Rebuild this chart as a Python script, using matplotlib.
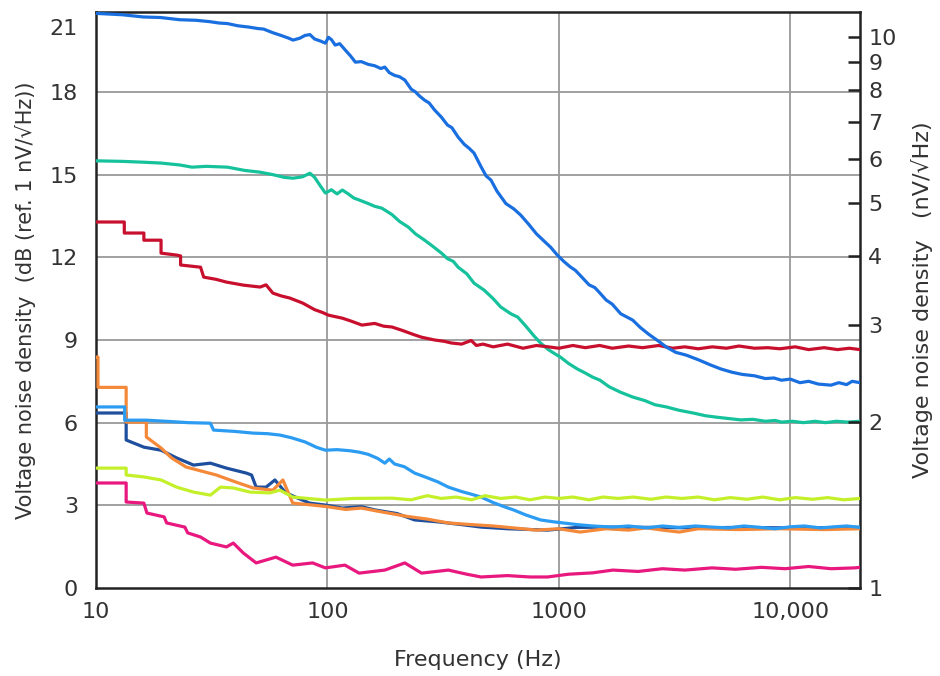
import matplotlib
matplotlib.use("Agg")
import matplotlib.pyplot as plt
import numpy as np

plt.rcParams['font.family'] = ['DejaVu Sans']

# curves: (frequency Hz, level dB re 1 nV/rtHz)
blue_f = [10, 13, 16, 19, 23, 27, 31, 34, 37, 41, 46, 50, 53, 58, 63, 68, 71, 76, 80, 84, 88, 93, 98,
          101, 104, 108, 113, 120, 126, 132, 140, 150, 160, 170, 177, 185, 195, 205, 216, 230, 240, 250,
          263, 275, 290, 311, 330, 345, 367, 390, 410, 430, 460, 485, 509, 540, 590, 640, 684, 740, 800,
          860, 920, 980, 1050, 1120, 1177, 1250, 1350, 1430, 1505, 1600, 1700, 1850, 2000, 2084, 2250,
          2450, 2700, 2915, 3200, 3550, 4036, 4500, 5000, 5588, 6200, 7000, 7800, 8500, 9152, 10000,
          11000, 12000, 13200, 14980, 16200, 17500, 18500, 20000]
blue_db = [20.85, 20.8, 20.72, 20.7, 20.62, 20.6, 20.55, 20.5, 20.48, 20.4, 20.35, 20.3, 20.28, 20.15,
           20.05, 19.95, 19.88, 19.95, 20.05, 20.08, 19.92, 19.85, 19.77, 19.98, 19.9, 19.7, 19.75, 19.5,
           19.3, 19.08, 19.1, 19.0, 18.95, 18.85, 18.9, 18.7, 18.6, 18.55, 18.43, 18.1, 18.0, 17.85, 17.7,
           17.6, 17.35, 17.08, 16.8, 16.7, 16.36, 16.1, 15.95, 15.78, 15.3, 14.95, 14.8, 14.4, 13.95,
           13.75, 13.53, 13.2, 12.85, 12.6, 12.37, 12.1, 11.85, 11.65, 11.53, 11.3, 11.0, 10.9, 10.7,
           10.45, 10.3, 9.95, 9.8, 9.72, 9.45, 9.2, 8.95, 8.74, 8.55, 8.45, 8.27, 8.1, 7.95, 7.83, 7.75,
           7.7, 7.6, 7.62, 7.54, 7.58, 7.45, 7.5, 7.4, 7.36, 7.45, 7.38, 7.5, 7.45]

teal_f = [10, 13, 16, 19, 23, 26, 30, 37, 44, 51, 58, 65, 71, 78, 84, 88, 93, 98, 104, 110, 116, 123,
          130, 137, 150, 160, 172, 190, 205, 224, 240, 263, 285, 311, 330, 350, 367, 400, 430, 475, 520,
          560, 620, 664, 720, 780, 833, 900, 960, 1015, 1100, 1200, 1300, 1400, 1505, 1650, 1850, 2084,
          2350, 2600, 2915, 3300, 3800, 4300, 4773, 5400, 6100, 6900, 7800, 8600, 9152, 10200, 11400,
          12800, 14200, 15800, 17720, 20000]
teal_db = [15.5, 15.48, 15.45, 15.42, 15.35, 15.27, 15.3, 15.27, 15.15, 15.09, 15.0, 14.9, 14.87, 14.92,
           15.05, 14.9, 14.6, 14.33, 14.45, 14.3, 14.44, 14.3, 14.15, 14.08, 13.95, 13.85, 13.78, 13.55,
           13.3, 13.09, 12.85, 12.62, 12.4, 12.15, 11.95, 11.85, 11.64, 11.4, 11.06, 10.81, 10.5, 10.2,
           9.95, 9.83, 9.5, 9.15, 8.89, 8.65, 8.5, 8.38, 8.15, 7.95, 7.8, 7.65, 7.54, 7.3, 7.1, 6.93, 6.8,
           6.65, 6.57, 6.45, 6.35, 6.25, 6.2, 6.15, 6.1, 6.12, 6.05, 6.08, 6.02, 6.05, 6.0, 6.05, 6.0,
           6.05, 6.02, 6.05]

red_f = [10, 13.25, 13.25, 16.1, 16.1, 19.1, 19.1, 22.3, 23.2, 23.2, 28.3, 29.2, 33, 36.6, 43.3, 51.2,
         54.3, 58.1, 63, 68.8, 78.1, 88, 95, 101, 116, 125, 141, 160, 175, 190, 210, 235, 255, 290, 320,
         343, 380, 418, 440, 470, 520, 600, 700, 800, 900, 1000, 1150, 1300, 1500, 1700, 2000, 2300,
         2700, 3100, 3500, 4000, 4600, 5300, 6000, 7000, 8000, 9000, 10500, 12000, 14000, 16000, 18000,
         20000]
red_db = [13.28, 13.28, 12.88, 12.88, 12.62, 12.62, 12.15, 12.08, 12.05, 11.72, 11.64, 11.28, 11.2, 11.1,
          10.99, 10.92, 11.0, 10.7, 10.6, 10.52, 10.34, 10.1, 10.0, 9.9, 9.79, 9.7, 9.54, 9.6, 9.5, 9.47,
          9.35, 9.2, 9.1, 9.0, 8.95, 8.89, 8.85, 8.98, 8.8, 8.85, 8.75, 8.85, 8.7, 8.8, 8.75, 8.7, 8.8,
          8.72, 8.8, 8.7, 8.78, 8.72, 8.8, 8.7, 8.75, 8.68, 8.75, 8.7, 8.78, 8.7, 8.72, 8.68, 8.75, 8.65,
          8.72, 8.65, 8.7, 8.65]

lblue_f = [10, 13.3, 13.3, 16.5, 20, 25, 31.2, 32.2, 40, 47.7, 55, 62.3, 70, 80, 90, 98, 110, 125, 137,
           150, 165, 177, 185, 195, 215, 238, 270, 300, 333, 380, 420, 461, 520, 580, 638, 720, 833, 950,
           1045, 1200, 1400, 1712, 2000, 2400, 2800, 3300, 3900, 4588, 5400, 6300, 7400, 8600, 10000,
           11500, 13500, 15500, 17500, 20000]
lblue_db = [6.57, 6.57, 6.09, 6.09, 6.05, 6.0, 5.98, 5.73, 5.68, 5.62, 5.6, 5.55, 5.45, 5.3, 5.1, 5.0,
            5.02, 4.98, 4.93, 4.85, 4.7, 4.53, 4.68, 4.5, 4.4, 4.17, 4.0, 3.85, 3.66, 3.5, 3.4, 3.3, 3.1,
            2.95, 2.83, 2.65, 2.47, 2.4, 2.36, 2.3, 2.25, 2.21, 2.25, 2.18, 2.25, 2.2, 2.25, 2.21, 2.18,
            2.25, 2.2, 2.15, 2.22, 2.25, 2.18, 2.22, 2.25, 2.2]

navy_f = [10, 13.5, 13.5, 16.1, 19.1, 22.3, 26.4, 31.2, 36.6, 44.6, 47, 49.2, 54.3, 59.3, 66.1, 75,
          83.7, 100, 116, 140, 161, 200, 238, 300, 380, 461, 600, 893, 1200, 1712, 2500, 4000, 6000,
          10000, 20000]
navy_db = [6.35, 6.35, 5.37, 5.11, 5.0, 4.72, 4.46, 4.53, 4.35, 4.17, 4.1, 3.66, 3.66, 3.92, 3.45, 3.25,
           3.08, 3.0, 2.9, 2.95, 2.83, 2.7, 2.47, 2.4, 2.3, 2.21, 2.15, 2.1, 2.2, 2.21, 2.2, 2.18, 2.2,
           2.18, 2.2]

orange_f = [10, 10.2, 10.2, 13.5, 13.5, 16.5, 16.5, 19.1, 21.2, 24.5, 33.1, 40, 47.7, 58.1, 64.2, 70.8,
            86.3, 100, 120, 140, 172, 220, 270, 333, 420, 520, 638, 800, 1000, 1236, 1600, 2000, 2393,
            2800, 3314, 4000, 6000, 9000, 14000, 20000]
orange_db = [8.38, 8.38, 7.28, 7.28, 6.02, 6.02, 5.48, 5.08, 4.72, 4.39, 4.1, 3.85, 3.63, 3.55, 3.92,
             3.08, 3.01, 2.95, 2.85, 2.9, 2.76, 2.6, 2.5, 2.36, 2.3, 2.25, 2.18, 2.1, 2.15, 2.03, 2.15,
             2.1, 2.18, 2.1, 2.03, 2.15, 2.12, 2.15, 2.12, 2.15]

yellow_f = [10, 13.5, 13.5, 16.1, 19.1, 22.3, 26.4, 31.2, 34.5, 39.2, 46.3, 56.4, 62.3, 70.8, 98, 130,
            190, 230, 270, 310, 360, 420, 480, 560, 650, 750, 870, 1000, 1150, 1350, 1550, 1800, 2100,
            2500, 2900, 3400, 4000, 4700, 5500, 6500, 7600, 9000, 10500, 12500, 14500, 17000, 20000]
yellow_db = [4.35, 4.35, 4.1, 4.03, 3.92, 3.66, 3.48, 3.37, 3.66, 3.63, 3.48, 3.45, 3.55, 3.3, 3.19,
             3.25, 3.26, 3.2, 3.35, 3.25, 3.3, 3.2, 3.35, 3.25, 3.3, 3.2, 3.3, 3.25, 3.3, 3.2, 3.3, 3.25,
             3.3, 3.22, 3.3, 3.25, 3.3, 3.2, 3.28, 3.22, 3.3, 3.2, 3.28, 3.22, 3.28, 3.2, 3.25]

magenta_f = [10, 13.5, 13.5, 16.1, 16.6, 19.7, 20.2, 24.2, 24.9, 28.3, 31.2, 36.6, 39.2, 43.3, 49.2,
             59.9, 70.8, 86.3, 98, 119, 137, 177, 216, 255, 333, 400, 461, 600, 750, 893, 1100, 1400,
             1712, 2200, 2800, 3500, 4588, 5800, 7500, 9500, 12000, 15000, 18980, 20000]
magenta_db = [3.81, 3.81, 3.12, 3.08, 2.72, 2.58, 2.36, 2.21, 2.0, 1.85, 1.63, 1.49, 1.63, 1.27, 0.91,
              1.12, 0.83, 0.91, 0.73, 0.83, 0.54, 0.65, 0.91, 0.54, 0.65, 0.5, 0.4, 0.45, 0.4, 0.4, 0.5,
              0.55, 0.65, 0.6, 0.7, 0.65, 0.73, 0.68, 0.75, 0.7, 0.78, 0.7, 0.73, 0.75]

series = [
    (navy_f, navy_db, '#1d4f9e'),
    (orange_f, orange_db, '#f5893a'),
    (lblue_f, lblue_db, '#2b9cf2'),
    (yellow_f, yellow_db, '#c4f02a'),
    (magenta_f, magenta_db, '#e8187f'),
    (teal_f, teal_db, '#15c29c'),
    (red_f, red_db, '#c8102e'),
    (blue_f, blue_db, '#1a6fe0'),
]

# right axis: nV/rtHz shown at 20*log10(v) dB
right_vals = [1, 2, 3, 4, 5, 6, 7, 8, 9, 10]

txt = '#333333'
fig = plt.figure(figsize=(9.4, 6.76), dpi=100)
ax = fig.add_axes([96/940, 1-588/676, 764/940, 576/676])

for g in [3, 6, 9, 12, 15, 18]:
    ax.axhline(g, color='#9a9a9a', lw=1.3, zorder=1)
for g in [100, 1000, 10000]:
    ax.axvline(g, color='#9a9a9a', lw=1.3, zorder=1)

for f, db, c in series:
    ax.plot(f, db, color=c, lw=2.3, zorder=3)

ax.set_xscale('log')
ax.set_xlim(10, 20000)
ax.set_ylim(0, 20.9)
ax.set_xticks([10, 100, 1000, 10000])
ax.set_xticklabels(['10', '100', '1000', '10,000'])
ax.xaxis.set_minor_locator(matplotlib.ticker.NullLocator())
ax.set_yticks([0, 3, 6, 9, 12, 15, 18, 20.35])
ax.set_yticklabels(['0', '3', '6', '9', '12', '15', '18', '21'])
ax.tick_params(axis='both', length=0, labelsize=16, labelcolor=txt)
ax.tick_params(axis='y', pad=13)
ax.tick_params(axis='x', pad=10)

for s in ax.spines.values():
    s.set_linewidth(1.8)
    s.set_color('#222222')

ax.set_xlabel('Frequency (Hz)', fontsize=16, color=txt, labelpad=20)
ax.set_ylabel('Voltage noise density  (dB (ref. 1 nV/√Hz))', fontsize=15, color=txt, labelpad=10)

ax2 = ax.twinx()
ax2.set_ylim(ax.get_ylim())
ax2.set_yticks([20*np.log10(v) for v in right_vals])
ax2.set_yticklabels([str(v) for v in right_vals])
ax2.tick_params(axis='y', direction='in', length=9, width=1.8, color='#222222',
                labelsize=16, labelcolor=txt, pad=6)
for s in ax2.spines.values():
    s.set_visible(False)
ax2.set_ylabel('Voltage noise density   (nV/√Hz)', fontsize=16, color=txt, labelpad=10)

fig.savefig('out.png', dpi=100)
